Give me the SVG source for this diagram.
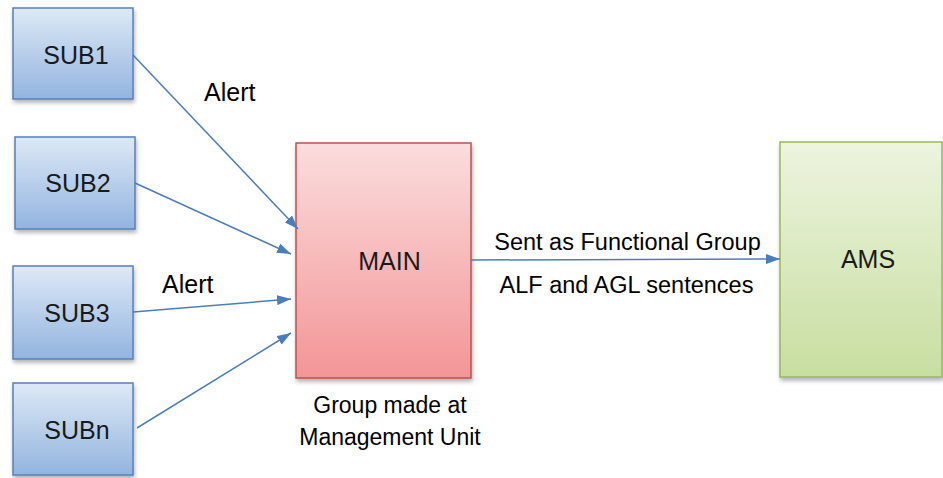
<svg xmlns="http://www.w3.org/2000/svg" width="943" height="478" viewBox="0 0 943 478">
<style>
.node text{font-family:"Liberation Sans",Arial,sans-serif;font-size:25px;fill:#1a1a1a;text-anchor:middle}
.lbl{font-family:"Liberation Sans",Arial,sans-serif;font-size:23.5px;fill:#000}
.mid{text-anchor:middle}
.sub{fill:url(#gBlue);stroke:#5580bb;stroke-width:1.5}
.conn line{stroke:#4a7ebb;stroke-width:1.5;marker-end:url(#arr)}
</style>
<defs>
<linearGradient id="gBlue" x1="0" y1="0" x2="0" y2="1"><stop offset="0" stop-color="#dde9f6"/><stop offset="1" stop-color="#93b4df"/></linearGradient>
<linearGradient id="gRed" x1="0" y1="0" x2="0" y2="1"><stop offset="0" stop-color="#fbdddd"/><stop offset="1" stop-color="#f39597"/></linearGradient>
<linearGradient id="gGreen" x1="0" y1="0" x2="0" y2="1"><stop offset="0" stop-color="#edf4e0"/><stop offset="1" stop-color="#c8dea0"/></linearGradient>
<filter id="sh" x="-10%" y="-10%" width="120%" height="125%"><feDropShadow dx="1" dy="3" stdDeviation="2" flood-color="#000" flood-opacity="0.3"/></filter>
<marker id="arr" viewBox="0 0 14 10" refX="14" refY="5" markerWidth="14" markerHeight="10" markerUnits="userSpaceOnUse" orient="auto"><path d="M0,0 L14,5 L0,10 Z" fill="#4a7ebb"/></marker>
</defs>
<g id="SUB1" class="node"><rect class="sub" x="13" y="8" width="120" height="91" filter="url(#sh)"/><text x="76" y="64">SUB1</text></g>
<g id="SUB2" class="node"><rect class="sub" x="15" y="137" width="120" height="92" filter="url(#sh)"/><text x="78" y="192">SUB2</text></g>
<g id="SUB3" class="node"><rect class="sub" x="13" y="266" width="120" height="93" filter="url(#sh)"/><text x="77" y="322">SUB3</text></g>
<g id="SUBn" class="node"><rect class="sub" x="13" y="383" width="120" height="92" filter="url(#sh)"/><text x="77" y="439">SUBn</text></g>
<g id="MAIN" class="node"><rect x="296" y="143" width="175" height="235" fill="url(#gRed)" stroke="#c0504d" stroke-width="1.5" filter="url(#sh)"/><text x="389.5" y="270">MAIN</text></g>
<g id="AMS" class="node"><rect x="780" y="142" width="162" height="235" fill="url(#gGreen)" stroke="#98b954" stroke-width="1.5" filter="url(#sh)"/><text x="868" y="268">AMS</text></g>
<g id="connectors" class="conn">
<line x1="133" y1="55" x2="298" y2="229"/>
<line x1="135" y1="183" x2="291" y2="254"/>
<line x1="133" y1="312" x2="291" y2="299"/>
<line x1="137" y1="428" x2="291" y2="333"/>
<line x1="471" y1="260" x2="780" y2="259"/>
</g>
<g id="labels">
<text class="lbl" x="204" y="101" style="font-size:25px">Alert</text>
<text class="lbl" x="162" y="293" style="font-size:25px">Alert</text>
<text class="lbl mid" x="627.5" y="250">Sent as Functional Group</text>
<text class="lbl mid" x="626.5" y="293">ALF and AGL sentences</text>
<text class="lbl mid" x="390" y="413" style="font-size:23px">Group made at</text>
<text class="lbl mid" x="390" y="445" style="font-size:23px">Management Unit</text>
</g>
</svg>
